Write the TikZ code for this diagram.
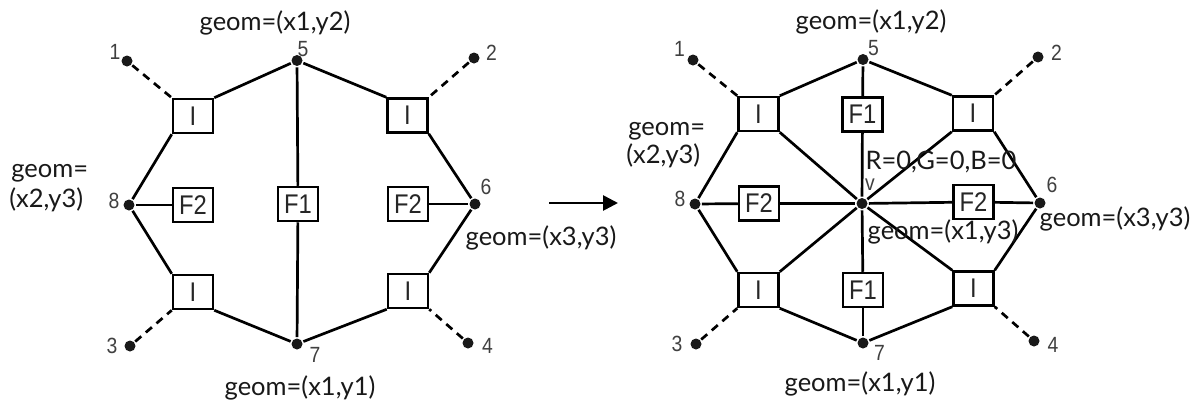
\documentclass[tikz,border=0pt]{standalone}
\usepackage{fontspec}
\setmainfont{Lato}
\newfontfamily\lblfont[FakeStretch=0.88]{Liberation Sans}
\usetikzlibrary{arrows.meta}
\begin{document}
\begin{tikzpicture}[x=1pt,y=-1pt,
  line width=2.7pt,
  box/.style={draw, line width=2.5pt, minimum width=40pt, minimum height=34pt, inner sep=0pt, fill=white, text=black!85, font=\lblfont\fontsize{27}{27}\selectfont},
  dot/.style={circle, fill=black!90, inner sep=0pt, minimum size=11pt},
  num/.style={font=\lblfont\fontsize{22}{22}\selectfont, text=black!75, inner sep=0pt},
  geo/.style={font=\fontsize{25.5}{27}\selectfont, text=black!90, inner sep=0pt},
  dsh/.style={dash pattern=on 8pt off 6pt},
]
\fill[white] (0,0) rectangle (1194,405);
\useasboundingbox (0,0) rectangle (1194,405);

% ---------- left diagram ----------
\node[dot] (a1) at (127,61) {};
\node[dot] (a2) at (474,58) {};
\node[dot] (a3) at (130,346) {};
\node[dot] (a4) at (468,343) {};
\node[dot] (a5) at (297,60.5) {};
\node[dot] (a6) at (475,204) {};
\node[dot] (a7) at (297,344) {};
\node[dot] (a8) at (129,205) {};
\node[box] (aiul) at (193,116) {I};
\node[box] (aiur) at (407.5,115.5) {I};
\node[box] (aill) at (193,292) {I};
\node[box] (ailr) at (408,291) {I};
\node[box] (af1) at (298,204) {F1};
\node[box] (af2l) at (193,205) {F2};
\node[box] (af2r) at (408,204) {F2};

\draw (a5) -- (aiul.north east);
\draw (aiul.south west) -- (a8);
\draw (a8) -- (aill.north west);
\draw (aill.south east) -- (a7);
\draw (a7) -- (ailr.south west);
\draw (ailr.north east) -- (a6);
\draw (a6) -- (aiur.south east);
\draw (aiur.north west) -- (a5);
\draw (a5) -- (af1);
\draw (af1) -- (a7);
\draw (a8) -- (af2l);
\draw (af2r) -- (a6);
\draw[dsh] (a1) -- (aiul.north west);
\draw[dsh] (a2) -- (aiur.north east);
\draw[dsh] (a3) -- (aill.south west);
\draw[dsh] (a4) -- (ailr.south east);

\node[num] (la1) at (115,52) {1};
\node[num] (la2) at (491.5,53) {2};
\node[num] (la3) at (112,346) {3};
\node[num] (la4) at (487.5,346) {4};
\node[num] (la5) at (303,49.5) {5};
\node[num] (la6) at (486,187) {6};
\node[num] (la7) at (315,355) {7};
\node[num] (la8) at (114,200.5) {8};

\node[geo] (ga1) at (275,22.5) {geom=(x1,y2)};
\node[geo, anchor=west] (ga2) at (10,173) {geom=};
\node[geo, anchor=west] (ga3) at (8,200) {(x2,y3)};
\node[geo] (ga4) at (541,237.5) {geom=(x3,y3)};
\node[geo] (ga5) at (300,388) {geom=(x1,y1)};

% ---------- arrow ----------
\coordinate (arrs) at (549,203);
\coordinate (arre) at (618,203);
\draw[-{Triangle[length=15pt,width=15pt]}] (arrs) -- (arre);

% ---------- right diagram ----------
\node[dot] (b1) at (693,60) {};
\node[dot] (b2) at (1038,57) {};
\node[dot] (b3) at (696,344) {};
\node[dot] (b4) at (1034,341) {};
\node[dot] (b5) at (863,59.5) {};
\node[dot] (b6) at (1040,203) {};
\node[dot] (b7) at (863,343) {};
\node[dot] (b8) at (695,204) {};
\node[dot] (bv) at (862,203.5) {};
\node[box] (biul) at (758.5,114) {I};
\node[box] (bf1t) at (862.5,114.5) {F1};
\node[box] (biur) at (973,113.5) {I};
\node[box] (bf2l) at (759,203.5) {F2};
\node[box] (bf2r) at (973.5,202) {F2};
\node[box] (bill) at (758.5,290) {I};
\node[box] (bf1b) at (863,290) {F1};
\node[box] (bilr) at (973.5,288.5) {I};

\draw (b5) -- (biul.north east);
\draw (biul.south west) -- (b8);
\draw (b8) -- (bill.north west);
\draw (bill.south east) -- (b7);
\draw (b7) -- (bilr.south west);
\draw (bilr.north east) -- (b6);
\draw (b6) -- (biur.south east);
\draw (biur.north west) -- (b5);
\draw (b5) -- (bf1t);
\draw (bf1t) -- (bv);
\draw (bv) -- (bf1b);
\draw (bf1b) -- (b7);
\draw (b8) -- (bf2l);
\draw (bf2l) -- (bv);
\draw (bv) -- (bf2r);
\draw (bf2r) -- (b6);
\draw (biul.south east) -- (bv);
\draw (biur.south west) -- (bv);
\draw (bill.north east) -- (bv);
\draw (bilr.north west) -- (bv);
\draw[dsh] (b1) -- (biul.north west);
\draw[dsh] (b2) -- (biur.north east);
\draw[dsh] (b3) -- (bill.south west);
\draw[dsh] (b4) -- (bilr.south east);

\node[num] (lb1) at (679.5,48.5) {1};
\node[num] (lb2) at (1056.5,53) {2};
\node[num] (lb3) at (677,344) {3};
\node[num] (lb4) at (1053,345) {4};
\node[num] (lb5) at (873.5,48.5) {5};
\node[num] (lb6) at (1052,185) {6};
\node[num] (lb7) at (879.5,353) {7};
\node[num] (lb8) at (680,199) {8};
\node[num] (lbv) at (870,185) {v};

\node[geo] (gb1) at (871,22) {geom=(x1,y2)};
\node[geo, anchor=west] (gb2) at (627,131.5) {geom=};
\node[geo, anchor=west] (gb3) at (625,156) {(x2,y3)};
\node[geo] (gb4) at (941,161.5) {R=0,G=0,B=0};
\node[geo] (gb5) at (943,231.5) {geom=(x1,y3)};
\node[geo] (gb6) at (1115,218.5) {geom=(x3,y3)};
\node[geo] (gb7) at (860,383.5) {geom=(x1,y1)};
\end{tikzpicture}
\end{document}
